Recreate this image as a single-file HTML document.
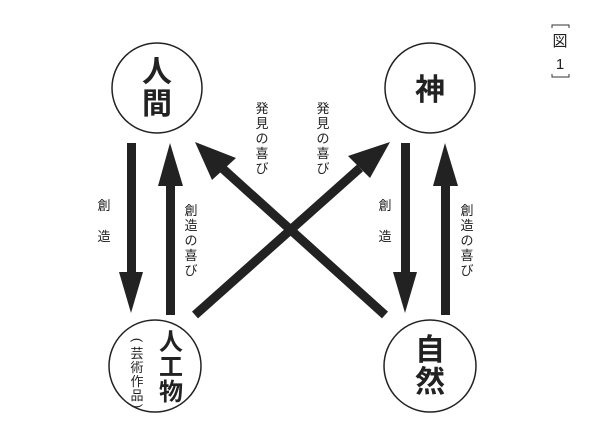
<!DOCTYPE html>
<html><head><meta charset="utf-8"><style>
html,body{margin:0;padding:0;background:#fff;}
svg{display:block}
text{font-family:"Liberation Sans","Noto Sans CJK JP",sans-serif;fill:#222}
</style></head><body>
<svg width="600" height="439" viewBox="0 0 600 439">
<g fill="none" stroke="#222" stroke-width="1.5">
<circle cx="157" cy="88" r="45"/>
<circle cx="430" cy="88" r="45"/>
<circle cx="155" cy="366" r="46"/>
<circle cx="430" cy="366" r="46"/>
</g>
<g fill="#222">
<rect x="127" y="143" width="9" height="132"/>
<polygon points="119,272 143,272 131,313"/>
<rect x="166" y="182" width="9" height="133"/>
<polygon points="158,186 183,186 170,143"/>
<rect x="401" y="143" width="9" height="132"/>
<polygon points="393,272 417,272 405,313"/>
<rect x="441" y="182" width="9" height="133"/>
<polygon points="433,186 458,186 445,143"/>
</g>
<g stroke="#222" stroke-width="9">
<line x1="195" y1="315" x2="360" y2="168"/>
<line x1="385" y1="315" x2="222" y2="168"/>
</g>
<g fill="#222">
<polygon points="390,142 348,156 370,178"/>
<polygon points="195,142 212,180 236,158"/>
</g>
<g font-size="30" font-weight="bold" text-anchor="middle">
<text x="157" y="82">人</text><text x="157" y="114">間</text>
<text x="430" y="100">神</text>
<text x="430" y="360">自</text><text x="430" y="392">然</text>
</g>
<g font-size="24" font-weight="bold" text-anchor="middle">
<text x="171" y="350">人</text><text x="171" y="375">工</text><text x="171" y="400">物</text>
</g>
<g font-size="13" text-anchor="middle">
<g transform="translate(137,340) rotate(90)"><text x="0" y="4">(</text></g>
<text x="137" y="358">芸</text><text x="137" y="372">術</text><text x="137" y="386">作</text><text x="137" y="400">品</text>
<g transform="translate(137,406) rotate(90)"><text x="0" y="4">)</text></g>
</g>
<g font-size="13" text-anchor="middle">
<text x="104" y="210">創</text><text x="104" y="241">造</text>
<text x="385" y="210">創</text><text x="385" y="241">造</text>
<text x="191" y="215">創</text><text x="191" y="230">造</text><text x="191" y="245">の</text><text x="191" y="260">喜</text><text x="191" y="275">び</text>
<text x="467" y="215">創</text><text x="467" y="230">造</text><text x="467" y="245">の</text><text x="467" y="260">喜</text><text x="467" y="275">び</text>
<text x="262" y="113">発</text><text x="262" y="128">見</text><text x="262" y="143">の</text><text x="262" y="158">喜</text><text x="262" y="173">び</text>
<text x="323" y="113">発</text><text x="323" y="128">見</text><text x="323" y="143">の</text><text x="323" y="158">喜</text><text x="323" y="173">び</text>
</g>
<g stroke="#333" stroke-width="1" fill="none">
<polyline points="552,28 552,25 569,25 569,28"/>
<polyline points="552,74 552,77 569,77 569,74"/>
</g>
<text x="560" y="46" font-size="15" text-anchor="middle">図</text>
<text x="560" y="69" font-size="15" text-anchor="middle">1</text>
</svg>
</body></html>
